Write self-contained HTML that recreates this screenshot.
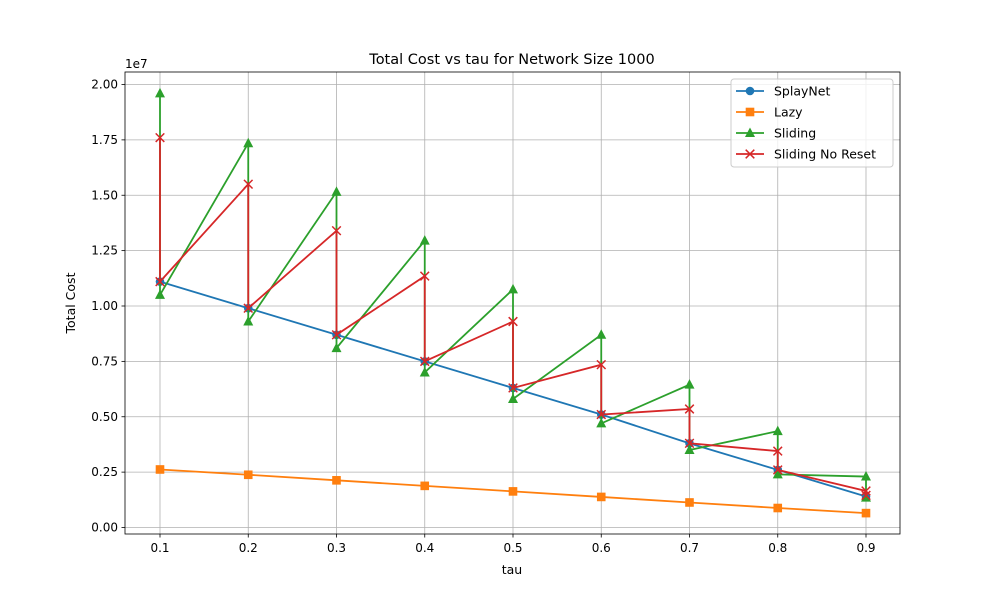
<!DOCTYPE html>
<html><head><meta charset="utf-8"><style>
body{margin:0;background:#fff;font-family:"Liberation Sans","DejaVu Sans",sans-serif}
svg text{font-family:"DejaVu Sans","Liberation Sans",sans-serif;fill:#000}
</style></head><body>
<svg id="chart" width="1000" height="600" xmlns="http://www.w3.org/2000/svg"></svg>
<script>
const taus=[0.1,0.2,0.3,0.4,0.5,0.6,0.7,0.8,0.9];
const splayNet=[11.1,9.9,8.7,7.5,6.3,5.1,3.8,2.6,1.4];
const lazy=[2.62,2.38,2.13,1.88,1.63,1.38,1.13,0.88,0.65];
const slidingX=[0.1,0.1,0.2,0.2,0.3,0.3,0.4,0.4,0.5,0.5,0.6,0.6,0.7,0.7,0.8,0.8,0.9,0.9];
const slidingY=[19.6,10.5,17.35,9.3,15.15,8.1,12.95,7.0,10.75,5.8,8.7,4.7,6.45,3.5,4.35,2.4,2.3,1.35];
const noResetY=[17.6,11.1,15.5,9.9,13.4,8.7,11.35,7.5,9.3,6.3,7.35,5.1,5.35,3.8,3.45,2.6,1.65,1.45];
const yTicks=[0,0.25,0.5,0.75,1.0,1.25,1.5,1.75,2.0];
const yTickLabels=["0.00","0.25","0.50","0.75","1.00","1.25","1.50","1.75","2.00"];
const xTickLabels=["0.1","0.2","0.3","0.4","0.5","0.6","0.7","0.8","0.9"];

const svg=document.getElementById('chart');
const NS='http://www.w3.org/2000/svg';
const L=125,R=900,T=72,B=534;
const xs=t=>160+(t-0.1)*882.5;
const ys=v=>527.5-v*22.15;
function mk(tag,attrs,parent){const e=document.createElementNS(NS,tag);for(const k in attrs)e.setAttribute(k,attrs[k]);(parent||svg).appendChild(e);return e;}

taus.forEach((t,i)=>{
  const g=mk('line',{x1:xs(t),x2:xs(t),y1:T,y2:B,stroke:'#b0b0b0','stroke-width':0.8});
  
  mk('line',{x1:xs(t),x2:xs(t),y1:B,y2:B+3.5,stroke:'#000','stroke-width':0.8});
  const tx=mk('text',{x:xs(t),y:B+18,'text-anchor':'middle','font-size':12});tx.textContent=xTickLabels[i];
  
});
yTicks.forEach((v,i)=>{
  const y=ys(v*10);
  const g=mk('line',{x1:L,x2:R,y1:y,y2:y,stroke:'#b0b0b0','stroke-width':0.8});
  
  mk('line',{x1:L-3.5,x2:L,y1:y,y2:y,stroke:'#000','stroke-width':0.8});
  const tx=mk('text',{x:L-7,y:y+4,'text-anchor':'end','font-size':12});tx.textContent=yTickLabels[i];
  
});
const fr=mk('rect',{x:L,y:T,width:R-L,height:B-T,fill:'none',stroke:'#000','stroke-width':0.8});


function marker(type,x,y,c,g){
  if(type==='o')mk('circle',{cx:x,cy:y,r:4.3,fill:c},g);
  else if(type==='s')mk('rect',{x:x-4.3,y:y-4.3,width:8.6,height:8.6,fill:c},g);
  else if(type==='^')mk('polygon',{points:`${x},${y-5.5} ${x-5},${y+4} ${x+5},${y+4}`,fill:c},g);
  else if(type==='x'){mk('path',{d:`M${x-4.3},${y-4.3}L${x+4.3},${y+4.3}M${x-4.3},${y+4.3}L${x+4.3},${y-4.3}`,stroke:c,'stroke-width':1.5},g);}
}
function series(name,X,Y,c,m){
  const g=mk('g',{});
  mk('polyline',{points:X.map((x,i)=>xs(x)+','+ys(Y[i])).join(' '),fill:'none',stroke:c,'stroke-width':1.8},g);
  X.forEach((x,i)=>marker(m,xs(x),ys(Y[i]),c,g));
}
series('series-splaynet',taus,splayNet,'#1f77b4','o');
series('series-lazy',taus,lazy,'#ff7f0e','s');
series('series-sliding',slidingX,slidingY,'#2ca02c','^');
series('series-sliding-no-reset',slidingX,noResetY,'#d62728','x');

let t;
t=mk('text',{x:512,y:64,'text-anchor':'middle','font-size':14.5});t.textContent='Total Cost vs tau for Network Size 1000';
t=mk('text',{x:512,y:574,'text-anchor':'middle','font-size':12.5});t.textContent='tau';
t=mk('text',{x:75,y:303,'text-anchor':'middle','font-size':12.5,transform:'rotate(-90 75 303)'});t.textContent='Total Cost';
t=mk('text',{x:125,y:68,'font-size':12});t.textContent='1e7';

const lg=mk('g',{});
mk('rect',{x:731,y:79,width:162,height:88,rx:3,fill:'#fff','fill-opacity':0.8,stroke:'#ccc'},lg);
[['SplayNet','#1f77b4','o'],['Lazy','#ff7f0e','s'],['Sliding','#2ca02c','^'],['Sliding No Reset','#d62728','x']].forEach((e,i)=>{
  const y=91+i*21;
  const eg=mk('g',{},lg);
  mk('line',{x1:736,x2:764,y1:y,y2:y,stroke:e[1],'stroke-width':1.8},eg);
  marker(e[2],750,y,e[1],eg);
  const tx=mk('text',{x:774,y:y+4.5,'font-size':12.5},eg);tx.textContent=e[0];
});
</script>
</body></html>
